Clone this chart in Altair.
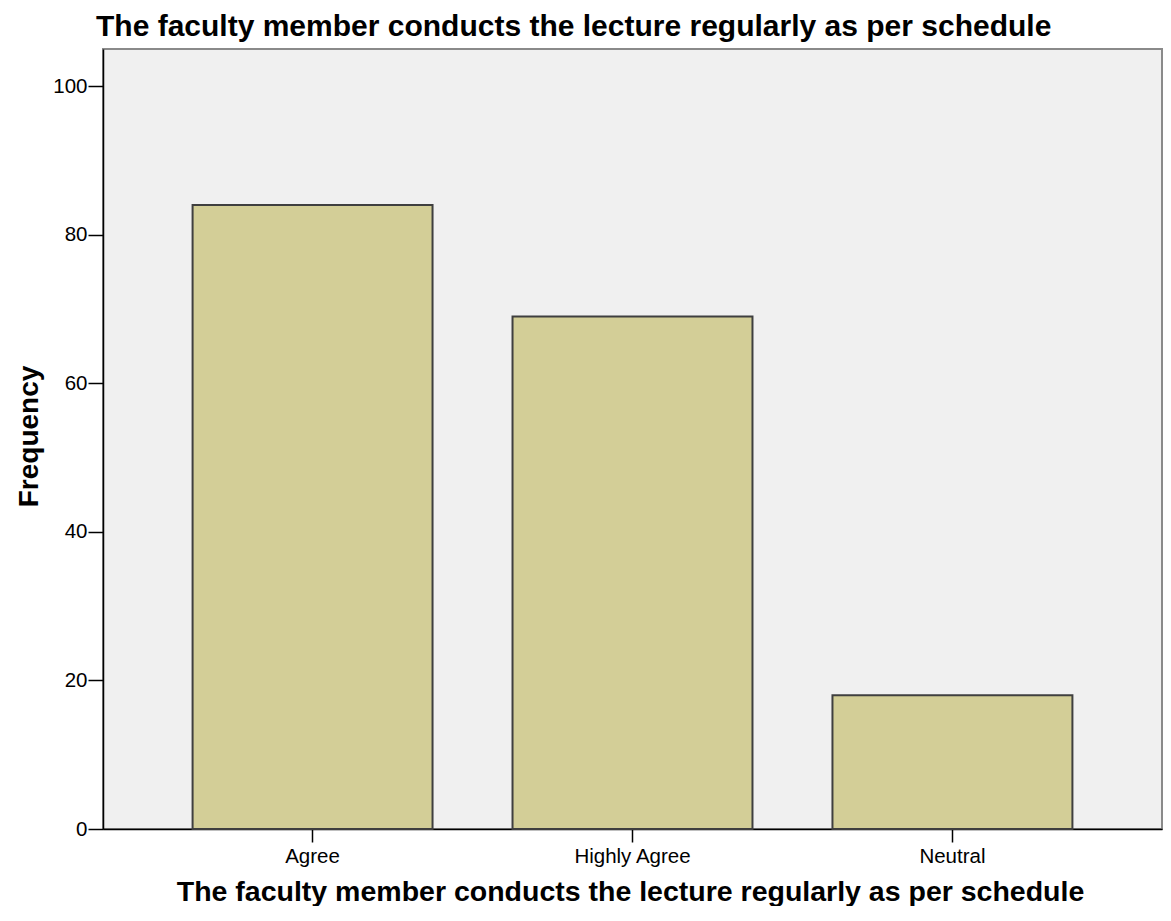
import altair as alt
import pandas as pd

categories = ["Agree", "Highly Agree", "Neutral"]
frequencies = [84, 69, 18]
y_ticks = [0, 20, 40, 60, 80, 100]

title_text = "The faculty member conducts the lecture regularly as per schedule"

df = pd.DataFrame({"category": categories, "frequency": frequencies})

FONT = "Liberation Sans"
W = 1059
H = 780

chart = alt.Chart(df).mark_bar(
    color="#D3CE97", stroke="#3f3f3f", strokeWidth=2
).encode(
    x=alt.X(
        "category:N",
        sort=categories,
        title=title_text,
        scale=alt.Scale(paddingInner=0.25, paddingOuter=0.28),
        axis=alt.Axis(
            labelAngle=0, labelFont=FONT, labelFontSize=20.5, labelColor="#000000",
            labelPadding=4, tickSize=13, tickColor="#000000", tickWidth=1.5,
            domainColor="#000000", domainWidth=1.5,
            titleFont=FONT, titleFontSize=28.5, titleFontWeight="bold",
            titleColor="#000000", titleBaseline="alphabetic",
            titleX=527, titleY=71,
        ),
    ),
    y=alt.Y(
        "frequency:Q",
        title="Frequency",
        scale=alt.Scale(domain=[0, 105], nice=False),
        axis=alt.Axis(
            values=y_ticks, grid=False, labelFont=FONT, labelFontSize=20.5,
            labelColor="#000000", labelPadding=1, tickSize=15, tickColor="#000000",
            tickWidth=1.5, domainColor="#000000", domainWidth=1.5,
            titleFont=FONT, titleFontSize=28, titleFontWeight="bold",
            titleColor="#000000", titleBaseline="alphabetic",
            titleX=-66, titleY=387, titleAngle=270,
        ),
    ),
).properties(
    width=W,
    height=H,
    autosize=alt.AutoSizeParams(type="none"),
    padding={"left": 95, "top": 41, "right": 1, "bottom": 77},
    title=alt.TitleParams(
        text=title_text, anchor="start", frame="group", font=FONT, fontSize=30,
        fontWeight="bold", color="#000000", offset=7, dx=-7,
    ),
).configure_view(
    fill="#F0F0F0", stroke="#8a8a8a", strokeWidth=2
)

chart.save("out.html", embed_options={"renderer": "svg", "actions": False})
